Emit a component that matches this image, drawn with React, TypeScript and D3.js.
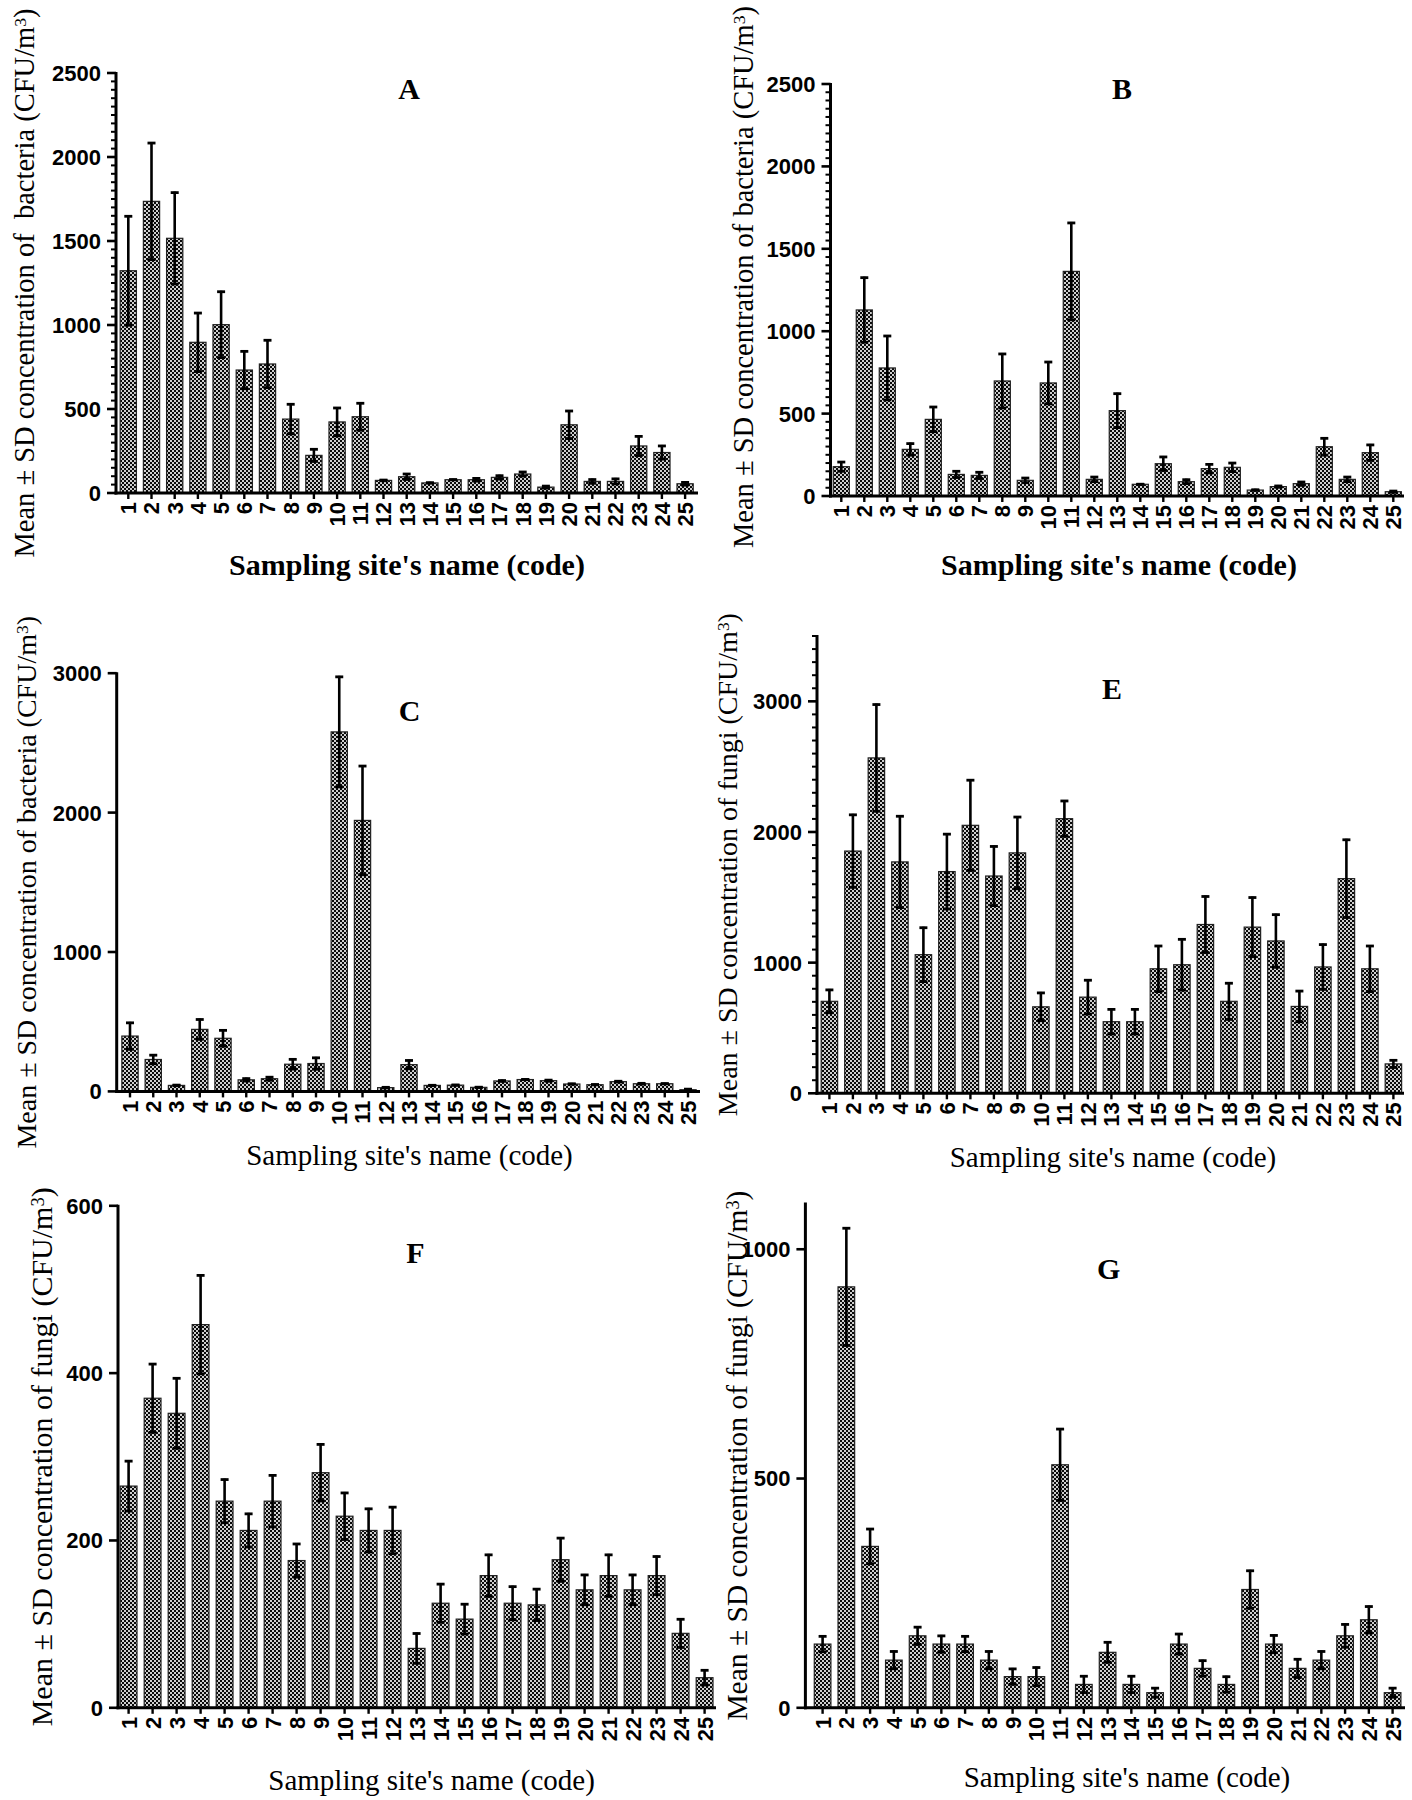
import React from 'react';
import * as d3 from 'd3';

// ---------- DATA ----------
const SITE_CODES = ['1','2','3','4','5','6','7','8','9','10','11','12','13','14','15','16','17','18','19','20','21','22','23','24','25'];

const A_MEAN = [1323,1736,1516,897,1002,732,768,440,224,423,454,75,97,60,79,79,93,113,35,406,69,69,280,241,55];
const A_SD   = [330,353,278,180,202,117,147,94,42,89,86,8,22,7,6,14,16,18,12,88,17,21,63,45,14];

const B_MEAN = [178,1129,777,283,465,131,125,698,95,686,1363,101,518,71,196,87,166,174,36,57,75,299,101,263,26];
const B_SD   = [34,202,200,41,81,25,25,170,20,133,300,20,109,6,47,18,32,32,8,10,16,57,20,53,10];

const C_MEAN = [397,229,43,445,381,83,91,195,200,2579,1944,27,192,43,45,29,75,85,77,53,48,70,55,55,12];
const C_SD   = [102,38,5,78,64,16,18,42,48,402,397,5,37,8,8,6,10,8,11,8,8,10,10,7,3];

const E_MEAN = [704,1854,2567,1771,1061,1697,2051,1663,1840,662,2102,736,548,548,953,984,1292,704,1272,1166,665,967,1643,953,225];
const E_SD   = [95,285,416,357,214,294,353,234,282,114,143,137,102,102,182,202,222,146,234,209,125,179,305,182,35];

const F_MEAN = [265,370,352,458,247,212,247,176,281,229,212,212,71,125,106,158,125,123,177,141,158,141,158,89,36];
const F_SD   = [31,42,43,60,27,21,32,21,35,29,27,29,19,24,19,26,21,20,27,19,26,19,24,18,10];

const G_MEAN = [139,918,352,104,157,139,139,104,68,68,530,51,121,51,33,139,86,51,258,139,86,104,157,192,33];
const G_SD   = [19,130,40,21,21,20,19,21,19,22,80,20,24,20,12,24,19,19,43,21,22,21,27,31,12];

const TICKS_AB = [0,500,1000,1500,2000,2500];
const TICKS_CE = [0,1000,2000,3000];
const TICKS_F  = [0,200,400,600];
const TICKS_G  = [0,500,1000];

const X_TITLE = "Sampling site's name (code)";
const Y_BACT_A = 'Mean \u00b1 SD concentration of\u00a0 bacteria (CFU/m';
const Y_BACT = 'Mean \u00b1 SD concentration of bacteria (CFU/m';
const Y_FUNGI = 'Mean \u00b1 SD concentration of fungi (CFU/m';

// ---------- LAYOUT ----------
type PanelCfg = {
  id: string; mean: number[]; sd: number[]; ticks: number[]; yMax: number; minor: number;
  axisX: number; axisEnd: number; y0: number; yTopPx: number; bar1: number; step: number;
  title: [number, number]; xTitle: [number, number]; xBold: boolean; xSize: number;
  yTitle: string; yTitleX: number; yTitleY?: number; ySize: number;
};

const PANELS: PanelCfg[] = [
  { id: 'A', mean: A_MEAN, sd: A_SD, ticks: TICKS_AB, yMax: 2500, minor: 50,
    axisX: 116, axisEnd: 698, y0: 493, yTopPx: 73, bar1: 128.3, step: 23.2,
    title: [409, 99], xTitle: [407, 575], xBold: true, xSize: 30,
    yTitle: Y_BACT_A, yTitleX: 34, ySize: 28.5 },
  { id: 'B', mean: B_MEAN, sd: B_SD, ticks: TICKS_AB, yMax: 2500, minor: 50,
    axisX: 830.5, axisEnd: 1404, y0: 496, yTopPx: 84, bar1: 841.3, step: 23.0,
    title: [1122, 99], xTitle: [1119, 575], xBold: true, xSize: 30,
    yTitle: Y_BACT, yTitleX: 753, yTitleY: 277, ySize: 28.5 },
  { id: 'C', mean: C_MEAN, sd: C_SD, ticks: TICKS_CE, yMax: 3000, minor: 0,
    axisX: 116.7, axisEnd: 700, y0: 1091.4, yTopPx: 673.2, bar1: 130, step: 23.25,
    title: [409.5, 721], xTitle: [409.5, 1165], xBold: false, xSize: 29,
    yTitle: Y_BACT, yTitleX: 36, ySize: 28 },
  { id: 'E', mean: E_MEAN, sd: E_SD, ticks: TICKS_CE, yMax: 3500, minor: 100,
    axisX: 817, axisEnd: 1404, y0: 1093.3, yTopPx: 636, bar1: 829.4, step: 23.5,
    title: [1112, 699], xTitle: [1113, 1167], xBold: false, xSize: 29,
    yTitle: Y_FUNGI, yTitleX: 737, ySize: 28 },
  { id: 'F', mean: F_MEAN, sd: F_SD, ticks: TICKS_F, yMax: 600, minor: 0,
    axisX: 118, axisEnd: 716, y0: 1707.8, yTopPx: 1205.8, bar1: 128.6, step: 24.0,
    title: [415.5, 1263], xTitle: [431.6, 1790], xBold: false, xSize: 29,
    yTitle: Y_FUNGI, yTitleX: 52, ySize: 30 },
  { id: 'G', mean: G_MEAN, sd: G_SD, ticks: TICKS_G, yMax: 1100, minor: 0,
    axisX: 805.4, axisEnd: 1405, y0: 1707.8, yTopPx: 1203.4, bar1: 822.6, step: 23.75,
    title: [1108.7, 1279], xTitle: [1127, 1787], xBold: false, xSize: 29,
    yTitle: Y_FUNGI, yTitleX: 747, ySize: 29.5 },
];

const SANS = "'Liberation Sans', Arial, sans-serif";
const SERIF = "'Liberation Serif', 'Times New Roman', serif";

function Panel({ p }: { p: PanelCfg }) {
  const x = d3.scaleBand<string>()
    .domain(SITE_CODES)
    .range([p.bar1 - p.step / 2, p.bar1 + p.step * 24.5])
    .paddingInner(0.3)
    .paddingOuter(0.15);
  const y = d3.scaleLinear().domain([0, p.yMax]).range([p.y0, p.yTopPx]);
  const bw = x.bandwidth();
  const minorTicks = p.minor > 0 ? d3.range(0, p.yMax + 0.001, p.minor).filter(v => !p.ticks.includes(v)) : [];
  const capHalf = 4;
  const yMid = p.yTitleY ?? (p.y0 + p.yTopPx) / 2;

  return (
    <g>
      {/* bars */}
      {SITE_CODES.map((c, i) => {
        const x0 = x(c) as number;
        const v = p.mean[i];
        return (
          <rect key={'b' + c} x={x0} y={y(v)} width={bw} height={p.y0 - y(v)}
            fill="url(#chk)" stroke="#222" strokeWidth={1.2} />
        );
      })}
      {/* error bars */}
      {SITE_CODES.map((c, i) => {
        const cx = (x(c) as number) + bw / 2;
        const hi = y(p.mean[i] + p.sd[i]);
        const lo = y(Math.max(0, p.mean[i] - p.sd[i]));
        return (
          <g key={'e' + c} stroke="#000" strokeWidth={2.6}>
            <line x1={cx} x2={cx} y1={lo} y2={hi} />
            <line x1={cx - capHalf} x2={cx + capHalf} y1={hi + 1} y2={hi + 1} strokeWidth={2.8} />
            <line x1={cx - capHalf} x2={cx + capHalf} y1={lo - 1} y2={lo - 1} strokeWidth={2.8} />
          </g>
        );
      })}
      {/* y axis */}
      <line x1={p.axisX} x2={p.axisX} y1={p.y0 + 1.5} y2={p.yTopPx - 1} stroke="#000" strokeWidth={3} />
      {p.ticks.map(t => (
        <g key={'yt' + t}>
          <line x1={p.axisX - 9} x2={p.axisX} y1={y(t)} y2={y(t)} stroke="#000" strokeWidth={2.6} />
          <text x={p.axisX - 15} y={y(t)} dy="0.36em" textAnchor="end" fontFamily={SANS}
            fontWeight="bold" fontSize={22}>{t}</text>
        </g>
      ))}
      {minorTicks.map(t => (
        <line key={'ym' + t} x1={p.axisX - 5} x2={p.axisX} y1={y(t)} y2={y(t)} stroke="#000" strokeWidth={2} />
      ))}
      {/* x axis */}
      <line x1={p.axisX - 1.5} x2={p.axisEnd} y1={p.y0} y2={p.y0} stroke="#000" strokeWidth={3} />
      {SITE_CODES.map(c => {
        const cx = (x(c) as number) + bw / 2;
        return (
          <g key={'xt' + c}>
            <line x1={cx} x2={cx} y1={p.y0} y2={p.y0 + 6} stroke="#000" strokeWidth={2.4} />
            <text transform={`translate(${cx},${p.y0 + 9}) rotate(-90)`} dy="0.36em" textAnchor="end"
              fontFamily={SANS} fontWeight="bold" fontSize={22}>{c}</text>
          </g>
        );
      })}
      {/* panel title */}
      <text x={p.title[0]} y={p.title[1]} textAnchor="middle" fontFamily={SERIF} fontWeight="bold" fontSize={30}>{p.id}</text>
      {/* x title */}
      <text x={p.xTitle[0]} y={p.xTitle[1]} textAnchor="middle" fontFamily={SERIF}
        fontWeight={p.xBold ? 'bold' : 'normal'} fontSize={p.xSize}>{X_TITLE}</text>
      {/* y title */}
      <text transform={`translate(${p.yTitleX},${yMid}) rotate(-90)`} textAnchor="middle"
        fontFamily={SERIF} fontSize={p.ySize} style={{ whiteSpace: 'pre' }}>
        {p.yTitle}
        <tspan dy="-0.45em" fontSize={p.ySize * 0.62}>3</tspan>
        <tspan dy="0.28em">)</tspan>
      </text>
    </g>
  );
}

export default function App() {
  return (
    <div style={{ position: 'absolute', left: 0, top: 0, width: 1412, height: 1800, background: '#fff' }}>
      <svg width={1412} height={1800} viewBox="0 0 1412 1800" xmlns="http://www.w3.org/2000/svg">
        <defs>
          <pattern id="chk" width={4} height={4} patternUnits="userSpaceOnUse">
            <rect width={4} height={4} fill="#cfcfcf" />
            <rect width={2} height={2} fill="#0a0a0a" />
            <rect x={2} y={2} width={2} height={2} fill="#0a0a0a" />
          </pattern>
        </defs>
        <rect width={1412} height={1800} fill="#fff" />
        {PANELS.map(p => <Panel key={p.id} p={p} />)}
      </svg>
    </div>
  );
}
